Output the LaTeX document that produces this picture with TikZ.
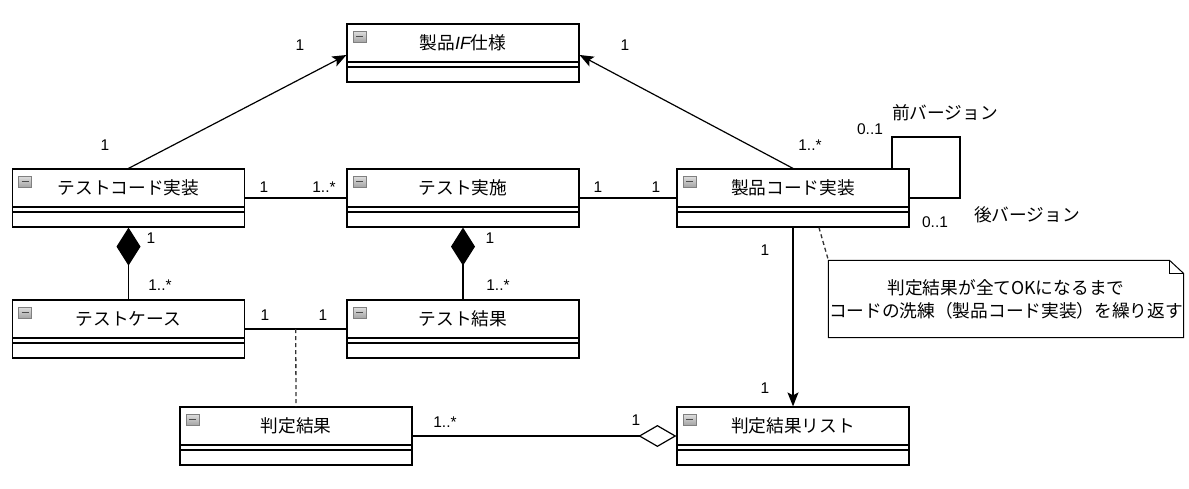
\documentclass[tikz,border=0pt]{standalone}
\usepackage{fontspec}
\setmainfont{Liberation Sans}
\newfontfamily\jpfont{Noto Sans CJK JP}
\usetikzlibrary{arrows.meta, calc}

\begin{document}
\begin{tikzpicture}[x=1pt, y=-1pt, line width=1.2pt]
            %Class box with header line, compartments and the small icon
            \tikzset{cls/.style={draw, rectangle, minimum width=232pt, inner sep=0pt,
                text height=25.5pt, text depth=32.5pt, font=\jpfont\fontsize{17.7}{20}\selectfont,
                path picture={
                \draw[line width=1.5pt] ([yshift=-38pt]path picture bounding box.north west) -- ([yshift=-38pt]path picture bounding box.north east)
                ([yshift=-43pt]path picture bounding box.north west) -- ([yshift=-43pt]path picture bounding box.north east);
                \draw[line width=0.8pt, draw=gray, top color=gray!25, bottom color=gray!70] ([xshift=6pt,yshift=-7pt]path picture bounding box.north west) rectangle ++(13pt,-11pt);
                \draw[line width=1.5pt, draw=black!70] ([xshift=9pt,yshift=-12.5pt]path picture bounding box.north west) -- ++(7pt,0pt);
                }}}

            %Block styles
            \tikzset{note/.style={rectangle, minimum width=354pt, minimum height=76pt, align=center, inner sep=0pt, font=\jpfont\fontsize{17.7}{23}\selectfont}}
            \tikzset{mult/.style={inner sep=0pt, font=\fontsize{15.5}{18}\selectfont}}
            \tikzset{role/.style={inner sep=0pt, font=\jpfont\fontsize{17.7}{20}\selectfont}}
            \tikzset{navi/.style={-{Stealth[length=14pt,width=11pt,inset=3pt]}}}
            \tikzset{compo/.style={{Diamond[length=38pt,width=24pt]}-}}
            \tikzset{aggr/.style={-{Diamond[open,length=38pt,width=22pt]}}}
            \tikzset{dep/.style={line width=1.3pt, draw=black!80, dash pattern=on 4pt off 3pt}}

            \useasboundingbox (0,0) rectangle (1189,488);

            %Nodes
            \node[cls] (IF) at (463,53) {製品{\rmfamily\itshape IF}仕様};
            \node[cls] (TC) at (128.5,198) {テストコード実装};
            \node[cls] (TJ) at (463,198) {テスト実施};
            \node[cls] (PC) at (793,198) {製品コード実装};
            \node[cls] (TCase) at (128.5,329) {テストケース};
            \node[cls] (TR) at (463,329) {テスト結果};
            \node[cls] (HK) at (296,436) {判定結果};
            \node[cls] (HKL) at (793,436) {判定結果リスト};
            \node[note] (memo) at (1006,299) {判定結果が全てOKになるまで\\コードの洗練（製品コード実装）を繰り返す};
            \draw[line width=1pt] (memo.north west) -- ([xshift=-14pt]memo.north east) -- ([yshift=-13pt]memo.north east) -- (memo.south east) -- (memo.south west) -- cycle;
            \draw[line width=1pt] ([xshift=-14pt]memo.north east) |- ([yshift=-13pt]memo.north east);

            \coordinate (mid) at ($(TCase.east)!0.5!(TR.west)$);
            \coordinate (loop) at (960,137);

            %Connectors
            \draw[navi] (TC.north) -- ([yshift=-2pt]IF.west);
            \draw[navi] (PC.north) -- ([yshift=-2pt]IF.east);
            \draw (TC.east) -- (TJ.west);
            \draw (TJ.east) -- (PC.west);
            \draw[compo] (TC.south) -- (TCase.north);
            \draw[compo] (TJ.south) -- (TR.north);
            \draw (TCase.east) -- (TR.west);
            \draw[dep] (mid) -- (HK.north);
            \draw[aggr] (HK.east) -- (HKL.west);
            \draw[navi] (PC.south) -- (HKL.north);
            \draw ([xshift=99pt]PC.north) |- (loop) |- (PC.east);
            \draw[dep] ([xshift=26pt]PC.south) -- (memo.north west);

            %Multiplicities
            \node[mult] (m1) at (300,45) {1};
            \node[mult] (m2) at (105,145) {1};
            \node[mult] (m3) at (625,45) {1};
            \node[mult] (m4) at (810,145) {1..*};
            \node[mult] (m5) at (870,129) {0..1};
            \node[role] (prev) at (945,113) {前バージョン};
            \node[mult] (m6) at (935,222) {0..1};
            \node[role] (next) at (1027,215) {後バージョン};
            \node[mult] (m7) at (264,187) {1};
            \node[mult] (m8) at (324,187) {1..*};
            \node[mult] (m9) at (598,187) {1};
            \node[mult] (m10) at (656,187) {1};
            \node[mult] (m11) at (151,238) {1};
            \node[mult] (m12) at (160,285) {1..*};
            \node[mult] (m13) at (490,238) {1};
            \node[mult] (m14) at (498,285) {1..*};
            \node[mult] (m15) at (265,315) {1};
            \node[mult] (m16) at (323,315) {1};
            \node[mult] (m17) at (445,422) {1..*};
            \node[mult] (m18) at (636,420) {1};
            \node[mult] (m19) at (765,250) {1};
            \node[mult] (m20) at (765,388) {1};
        \end{tikzpicture}
\end{document}
